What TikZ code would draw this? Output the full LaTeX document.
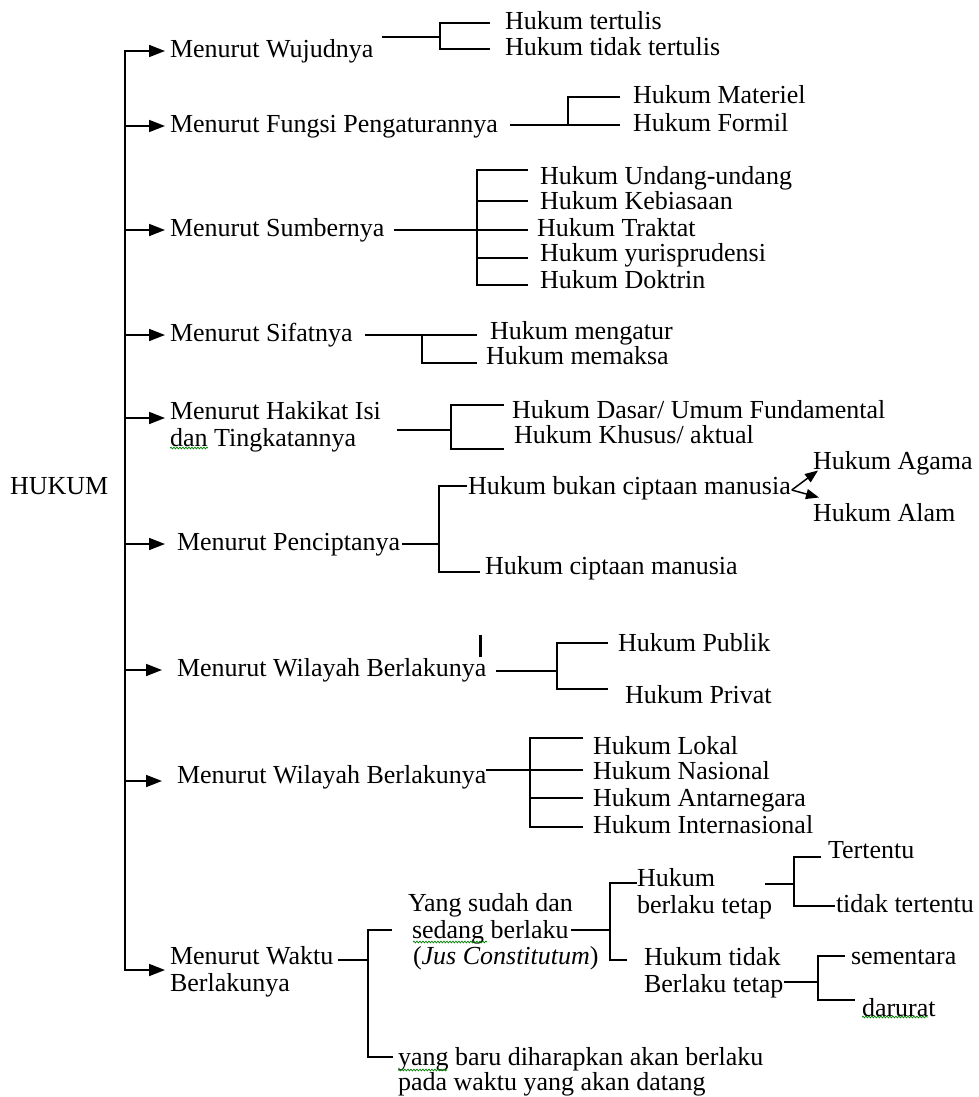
\documentclass[tikz,border=0pt]{standalone}
\usepackage{fontspec}
\setmainfont{Liberation Serif}
\usetikzlibrary{arrows.meta,calc,decorations.pathmorphing}
\begin{document}
\begin{tikzpicture}[x=1pt,y=-1pt,
 lbl/.style={anchor=west,inner sep=0pt,outer sep=0pt,font=\fontsize{26}{27}\selectfont,text height=18pt,text depth=5pt},
 mlbl/.style={anchor=north west,inner sep=0pt,outer sep=0pt,font=\fontsize{26}{27}\selectfont,align=left},
 ln/.style={line width=1.7pt},
 trunkln/.style={line width=2pt,line cap=rect},
 arr/.style={line width=1.7pt,-{Triangle[length=16pt,width=12pt]}},
 sarr/.style={line width=1.5pt,-{Triangle[length=13pt,width=10pt]}},
 squig/.style={draw=green!50!black,line width=0.7pt,decorate,decoration={snake,amplitude=0.9pt,segment length=3pt}},
]
\useasboundingbox (0,0) rectangle (979,1097);

% root and trunk
\node[lbl] (root) at (10,488) {HUKUM};
\coordinate (tk1) at (125,51);
\coordinate (tk2) at (125,126);
\coordinate (tk3) at (125,230);
\coordinate (tk4) at (125,335);
\coordinate (tk5) at (125,418);
\coordinate (tk6) at (125,544);
\coordinate (tk7) at (125,670);
\coordinate (tk8) at (125,781);
\coordinate (tk9) at (125,970);
\draw[trunkln] (tk1) -- (tk9);

% 1
\node[lbl] (m1) at (170,51) {Menurut Wujudnya};
\draw[arr,shorten >=5pt] (tk1) -- (tk1 -| m1.west);
\node[lbl] (a1) at (505,23) {Hukum tertulis};
\node[lbl] (a2) at (505,49) {Hukum tidak tertulis};
\coordinate (j1) at (440,37);
\draw[ln] ($(j1 -| m1.east)+(9,0)$) -- (j1);
\draw[ln,shorten >=15pt] (j1) |- (a1.west);
\draw[ln,shorten >=15pt] (j1) |- (a2.west);

% 2
\node[lbl] (m2) at (170,126) {Menurut Fungsi Pengaturannya};
\draw[arr,shorten >=5pt] (tk2) -- (tk2 -| m2.west);
\node[lbl] (b1) at (633,97) {Hukum Materiel};
\node[lbl] (b2) at (633,125) {Hukum Formil};
\coordinate (j2) at (568,125);
\draw[ln] ($(j2 -| m2.east)+(12,0)$) -- (j2);
\draw[ln,shorten >=13pt] (j2) |- (b1.west);
\draw[ln,shorten >=13pt] (j2) -- (b2.west);

% 3
\node[lbl] (m3) at (170,230) {Menurut Sumbernya};
\draw[arr,shorten >=5pt] (tk3) -- (tk3 -| m3.west);
\node[lbl] (c1) at (540,178) {Hukum Undang-undang};
\node[lbl] (c2) at (540,203) {Hukum Kebiasaan};
\node[lbl] (c3) at (537,230) {Hukum Traktat};
\node[lbl] (c4) at (540,255) {Hukum yurisprudensi};
\node[lbl] (c5) at (540,282) {Hukum Doktrin};
\coordinate (j3) at (477,230);
\draw[ln] ($(j3 -| m3.east)+(10,0)$) -- (j3);
\draw[ln,shorten >=12pt] (j3) |- ([yshift=8pt]c1.west);
\draw[ln,shorten >=12pt] (j3) |- ([yshift=2pt]c2.west);
\draw[ln,shorten >=9pt] (j3) -- (c3.west);
\draw[ln,shorten >=12pt] (j3) |- ([yshift=-3pt]c4.west);
\draw[ln,shorten >=12pt] (j3) |- ([yshift=-3pt]c5.west);

% 4
\node[lbl] (m4) at (170,335) {Menurut Sifatnya};
\draw[arr,shorten >=5pt] (tk4) -- (tk4 -| m4.west);
\node[lbl] (d1) at (490,333) {Hukum mengatur};
\node[lbl] (d2) at (486,358) {Hukum memaksa};
\coordinate (j4) at (422,335);
\draw[ln] ($(j4 -| m4.east)+(12,0)$) -- ($(j4 -| d1.west)+(-13,0)$);
\draw[ln,shorten >=9pt] (j4) |- ([yshift=-5pt]d2.west);

% 5
\node[mlbl] (m5) at (170,401) {Menurut Hakikat Isi\\dan Tingkatannya};
\draw[arr,shorten >=5pt] (tk5) -- (tk5 -| m5.west);
\node[lbl] (e1) at (512,412) {Hukum Dasar/ Umum Fundamental};
\node[lbl] (e2) at (514,437) {Hukum Khusus/ aktual};
\coordinate (j5) at (451,430);
\draw[ln] ($(j5 -| m5.east)+(16,0)$) -- (j5);
\draw[ln,shorten >=8pt] (j5) |- ([yshift=7pt]e1.west);
\draw[ln,shorten >=10pt] (j5) |- ([yshift=-12pt]e2.west);

% 6
\node[lbl] (m6) at (177,544) {Menurut Penciptanya};
\draw[arr,shorten >=12pt] (tk6) -- (tk6 -| m6.west);
\node[lbl] (f1) at (468,488) {Hukum bukan ciptaan manusia};
\node[lbl] (f2) at (485,568) {Hukum ciptaan manusia};
\coordinate (j6) at (439,544);
\draw[ln] ($(m6.east)+(2,0)$) -- (j6);
\draw[ln,shorten >=1pt] (j6) |- ([yshift=2pt]f1.west);
\draw[ln,shorten >=5pt] (j6) |- ([yshift=-4pt]f2.west);
\node[lbl] (g1) at (813,463) {Hukum Agama};
\node[lbl] (g2) at (813,515) {Hukum Alam};
\draw[sarr] ($(f1.east)+(1,2)$) -- ($(g1.south west)+(5,-4)$);
\draw[sarr] ($(f1.east)+(1,2)$) -- ($(g2.north west)+(6,-6)$);

% 7
\node[lbl] (m7) at (177,670) {Menurut Wilayah Berlakunya};
\draw[arr,shorten >=15pt] (tk7) -- (tk7 -| m7.west);
\draw[line width=3pt] (480,635) -- (480,657);
\node[lbl] (h1) at (618,645) {Hukum Publik};
\node[lbl] (h2) at (625,697) {Hukum Privat};
\coordinate (j7) at (557,671);
\draw[ln] ($(j7 -| m7.east)+(10,0)$) -- (j7);
\draw[ln,shorten >=10pt] (j7) |- ([yshift=2pt]h1.west);
\draw[ln,shorten >=17pt] (j7) |- ([yshift=8pt]h2.west);

% 8
\node[lbl] (m8) at (177,777) {Menurut Wilayah Berlakunya};
\draw[arr,shorten >=15pt] (tk8) -- (tk8 -| m8.west);
\node[lbl] (i1) at (593,748) {Hukum Lokal};
\node[lbl] (i2) at (593,773) {Hukum Nasional};
\node[lbl] (i3) at (593,800) {Hukum Antarnegara};
\node[lbl] (i4) at (593,827) {Hukum Internasional};
\coordinate (j8) at (530,770);
\draw[ln] (j8 -| m8.east) -- (j8);
\draw[ln,shorten >=10pt] (j8) |- ([yshift=10pt]i1.west);
\draw[ln,shorten >=10pt] (j8) |- ([yshift=3pt]i2.west);
\draw[ln,shorten >=10pt] (j8) |- ([yshift=2pt]i3.west);
\draw[ln,shorten >=10pt] (j8) |- (i4.west);

% 9
\node[mlbl] (m9) at (170,946) {Menurut Waktu\\Berlakunya};
\draw[arr,shorten >=5pt] (tk9) -- (tk9 -| m9.west);
\coordinate (j9) at (368,960);
\draw[ln] ($(j9 -| m9.east)+(5,0)$) -- (j9);
\node[lbl] (n1a) at (408,905) {Yang sudah dan};
\node[lbl] (n1b) at (412,932) {sedang berlaku};
\node[lbl] (n1c) at (413,958) {(\textit{Jus Constitutum})};
\draw[ln,shorten >=20pt] (j9) |- ([yshift=2pt]n1b.west);
\node[mlbl,font=\fontsize{26}{25}\selectfont] (o1) at (398,1047) {yang baru diharapkan akan berlaku\\pada waktu yang akan datang};
\draw[ln] (j9) |- ($(o1.north west)+(-5,10)$);

\coordinate (j10) at (610,930);
\draw[ln] ($(j10 -| n1b.east)+(2,0)$) -- (j10);
\node[mlbl] (p1) at (637,868) {Hukum\\berlaku tetap};
\node[mlbl] (q1) at (644,947) {Hukum tidak\\Berlaku tetap};
\draw[ln] (j10) |- ($(p1.north west)+(0,15)$);
\draw[ln] (j10) |- ($(q1.north west)+(-17,13)$);

\coordinate (j11) at (794,884);
\draw[ln] ($(j11 -| p1.east)+(-7,0)$) -- (j11);
\node[lbl] (r1) at (828,852) {Tertentu};
\node[lbl] (r2) at (836,906) {tidak tertentu};
\draw[ln,shorten >=7pt] (j11) |- ([yshift=-5pt]r1.west);
\draw[ln,shorten >=1pt] (j11) |- (r2.west);

\coordinate (j12) at (818,982);
\draw[ln] ($(j12 -| q1.east)+(1,0)$) -- (j12);
\node[lbl] (s1) at (851,958) {sementara};
\node[lbl] (s2) at (862,1010) {darurat};
\draw[ln,shorten >=6pt] (j12) |- ([yshift=2pt]s1.west);
\draw[ln,shorten >=7pt] (j12) |- ([yshift=10pt]s2.west);

% spell-check underlines
\draw[squig] (170,448) -- (208,448);
\draw[squig] (413,942) -- (487,942);
\draw[squig] (398,1070) -- (447,1070);
\draw[squig] (862,1017) -- (928,1017);
\end{tikzpicture}
\end{document}
